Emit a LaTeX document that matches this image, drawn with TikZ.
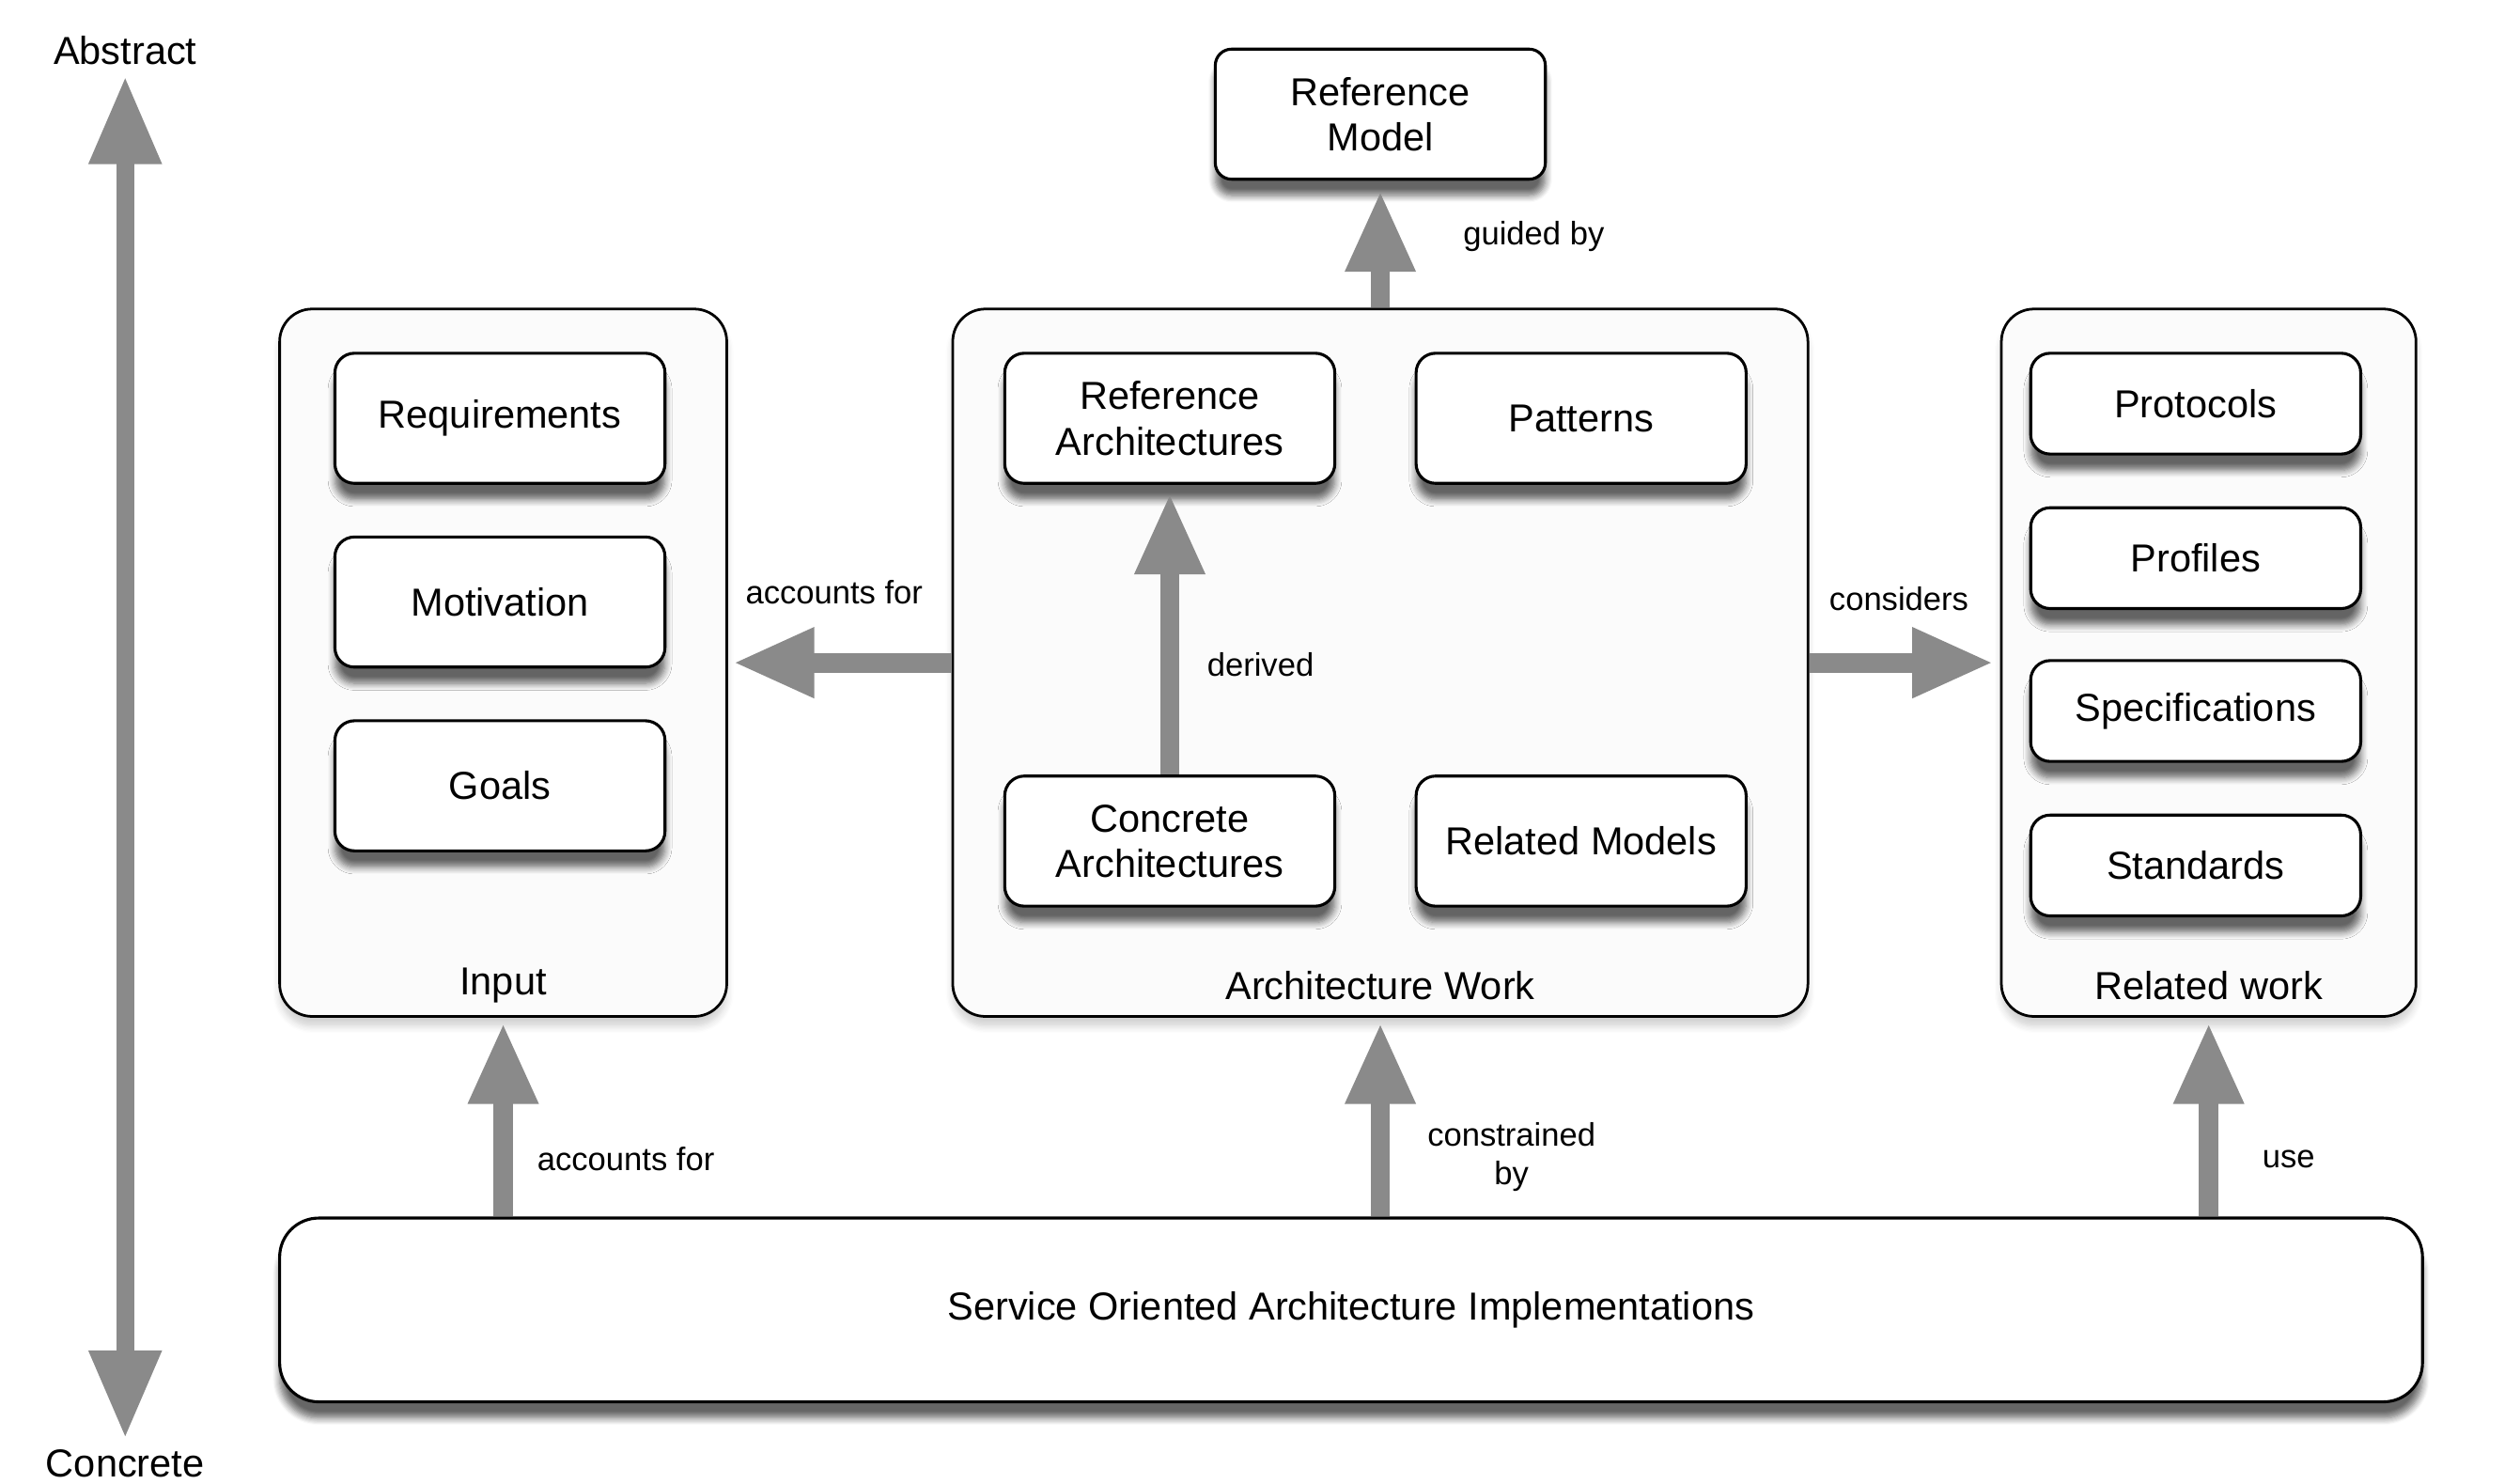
\documentclass[tikz,border=0pt]{standalone}
\usepackage{fontspec}
\setmainfont{Liberation Sans}
\usetikzlibrary{arrows.meta, positioning, shadows.blur}
\definecolor{arrowgray}{RGB}{138,138,138}
\tikzset{
    >={Triangle[width=20pt,length=25pt]}, % broad flat heads for the fat arrows
    box/.style={draw, line width=0.9pt, rounded corners=6pt, fill=white, minimum width=101.5pt, minimum height=40pt, align=center, font=\fontsize{12}{14}\selectfont, blur shadow={shadow xshift=0pt, shadow yshift=-5pt, shadow opacity=60, shadow blur steps=7}}, % the small boxes
    smallbox/.style={box, minimum height=31pt}, % boxes of the related work group
    group/.style={draw, line width=0.8pt, rounded corners=10pt, fill=gray!3, minimum height=217.5pt, blur shadow={shadow xshift=0pt, shadow yshift=-3pt, shadow opacity=18, shadow blur steps=6}}, % the three big frames
    flow/.style={->, draw=arrowgray, line width=6pt}, % fat gray arrow
    tag/.style={inner sep=0pt, font=\fontsize{10}{12}\selectfont, align=center}, % text on an arrow
    }

\begin{document}
\begin{tikzpicture}[x=0.5pt, y=0.5pt]
    \useasboundingbox (0,0) rectangle (1550,-912);

    % the three groups
    \node[group, minimum width=137.5pt] at (309.5,-407.5) (INPUT) {};
    \node[group, minimum width=263pt] at (849,-407.5) (ARCHWORK) {};
    \node[group, minimum width=127.5pt] at (1358.5,-407.5) (RELWORK) {};

    \node at ([yshift=10pt]INPUT.south) (INPUTLBL) {\fontsize{12}{14}\selectfont Input};
    \node at ([yshift=10pt]ARCHWORK.south) (ARCHLBL) {\fontsize{12}{14}\selectfont Architecture Work};
    \node at ([yshift=10pt]RELWORK.south) (RELLBL) {\fontsize{12}{14}\selectfont Related work};

    \node[box] at ([xshift=-1pt,yshift=-34pt]INPUT.north) (REQ) {Requirements};
    \node[box] at ([yshift=-56.5pt]REQ) (MOT) {Motivation};
    \node[box] at ([yshift=-56.5pt]MOT) (GOALS) {Goals};

    \node[box] at ([xshift=-64.75pt,yshift=-34pt]ARCHWORK.north) (REFARCH) {Reference\\Architectures};
    \node[box] at ([xshift=126.5pt]REFARCH) (PATTERNS) {Patterns};
    \node[box] at ([yshift=-130pt]REFARCH) (CONCARCH) {Concrete\\Architectures};
    \node[box] at ([xshift=126.5pt]CONCARCH) (RELMODELS) {Related Models};

    \node[smallbox] at ([xshift=-4pt,yshift=-29.5pt]RELWORK.north) (PROTO) {Protocols};
    \node[smallbox] at ([yshift=-47.5pt]PROTO) (PROF) {Profiles};
    \node[smallbox] at ([yshift=-47pt]PROF) (SPEC) {Specifications};
    \node[smallbox] at ([yshift=-47.5pt]SPEC) (STAND) {Standards};

    \node[box, rounded corners=5pt] at ([yshift=59.5pt]ARCHWORK.north) (REFMODEL) {Reference\\Model};

    \node[box, rounded corners=12pt, minimum width=659pt, minimum height=56.5pt] at (831,-805.5) (SOA) {Service Oriented Architecture Implementations};

    % abstraction axis
    \node at (77,-31) (ABSTRACT) {\fontsize{12}{14}\selectfont Abstract};
    \node at (77,-900) (CONCRETE) {\fontsize{12}{14}\selectfont Concrete};
    \draw (ABSTRACT) edge[flow, <->, line width=5.5pt, >={Triangle[width=21pt,length=27pt]}] (CONCRETE);

    % relations
    \draw (ARCHWORK.north) edge[flow, shorten >=3pt] node[tag, pos=0.56, right=22.5pt] {guided by} (REFMODEL.south);
    \draw (ARCHWORK.west) edge[flow, shorten >=1.5pt] node[tag, pos=0.525, above=15pt] {accounts for} (INPUT.east);
    \draw (ARCHWORK.east) edge[flow, shorten >=2pt] node[tag, pos=0.47, above=13pt] {considers} (RELWORK.west);
    \draw (CONCARCH.north) edge[flow, shorten >=2.5pt] node[tag, pos=0.38, right=8.5pt] {derived} (REFARCH.south);

    \draw (INPUT.south |- SOA.north) edge[flow, shorten >=1.5pt] node[tag, pos=0.29, right=7.5pt] {accounts for} (INPUT.south);
    \draw (ARCHWORK.south |- SOA.north) edge[flow, shorten >=1.5pt] node[tag, pos=0.3, right=11.5pt] {constrained\\by} (ARCHWORK.south);
    \draw (RELWORK.south |- SOA.north) edge[flow, shorten >=1.5pt] node[tag, pos=0.29, right=13.5pt] {use} (RELWORK.south);

\end{tikzpicture}
\end{document}
